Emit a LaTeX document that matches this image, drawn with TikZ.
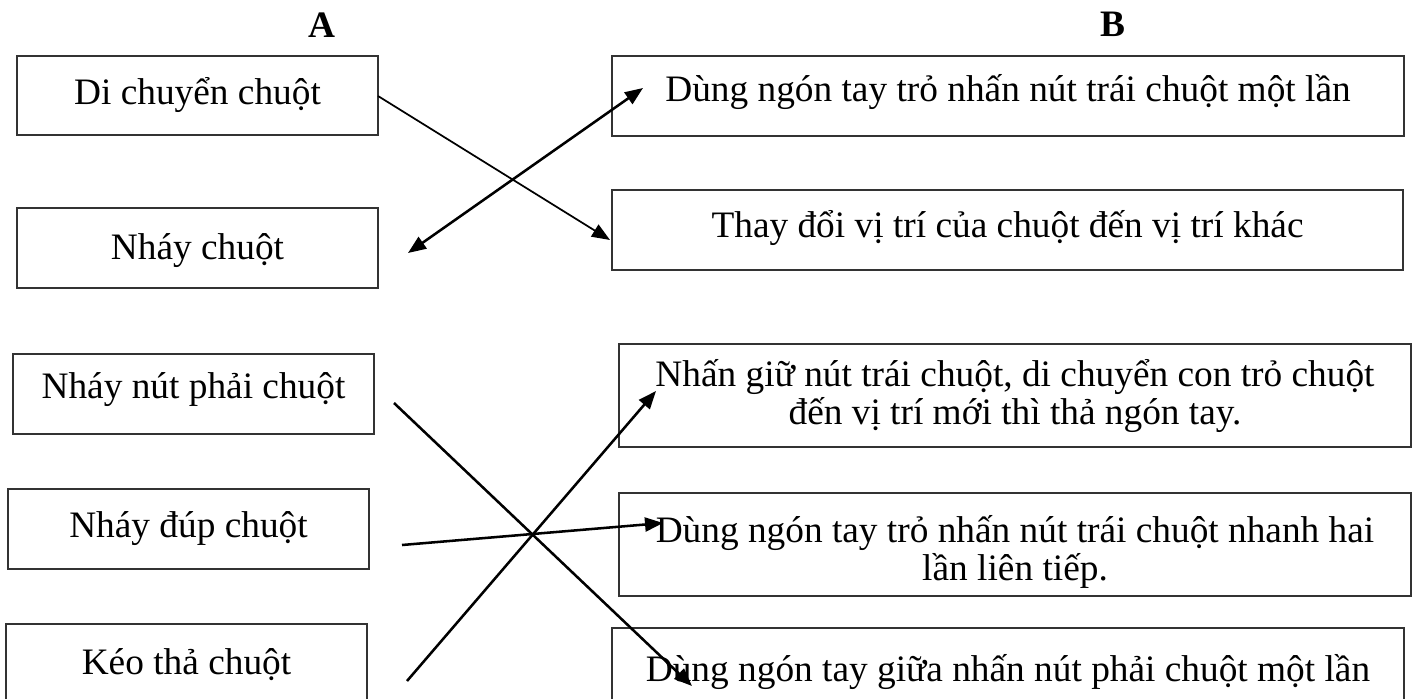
\documentclass[tikz,border=0pt]{standalone}
\usepackage{fontspec}
\setmainfont{Liberation Serif}
\usetikzlibrary{arrows.meta}
\tikzset{
  box/.style 2 args={draw=black!80, line width=1pt, inner sep=0pt, minimum width=#1*0.75pt, minimum height=#2*0.75pt},
  txt/.style={inner sep=0pt, anchor=base, font=\fontsize{28pt}{31pt}\selectfont},
  hdr/.style={inner sep=0pt, anchor=base, font=\fontsize{28pt}{31pt}\selectfont\bfseries},
  con/.style={line width=1.9pt, -{Triangle[length=13.5pt,width=10.5pt]}},
  conthin/.style={line width=1.3pt, -{Triangle[length=13.5pt,width=10.5pt]}},
  conboth/.style={line width=1.9pt, {Triangle[length=13.5pt,width=10.5pt]}-{Triangle[length=13.5pt,width=10.5pt]}}
}
\begin{document}
\begin{tikzpicture}[x=0.75pt,y=-0.75pt]
\path[use as bounding box, clip] (0,0) rectangle (1416,699);
% headers
\node[hdr] (hA) at (322,38) {A};
\node[hdr] (hB) at (1113,37) {B};
% left boxes
\node[box={361}{79}] (L1) at (197.5,95.5) {};
\node[txt] (L1t) at (197.5,104) {Di chuyển chuột};
\node[box={361}{80}] (L2) at (197.5,248) {};
\node[txt] (L2t) at (197.5,259) {Nháy chuột};
\node[box={361}{80}] (L3) at (193.5,394) {};
\node[txt] (L3t) at (193.5,398) {Nháy nút phải chuột};
\node[box={361}{80}] (L4) at (188.5,529) {};
\node[txt] (L4t) at (188.5,537) {Nháy đúp chuột};
\node[box={361}{96}] (L5) at (186.5,672) {};
\node[txt] (L5t) at (186.5,674) {Kéo thả chuột};
% right boxes
\node[box={792}{80}] (R1) at (1008,96) {};
\node[txt] (R1t) at (1008,102) {Dùng ngón tay trỏ nhấn nút trái chuột một lần};
\node[box={791}{80}] (R2) at (1007.5,230) {};
\node[txt] (R2t) at (1007.5,237) {Thay đổi vị trí của chuột đến vị trí khác};
\node[box={792}{103}] (R3) at (1015,395.5) {};
\node[txt] (R3a) at (1015,386) {Nhấn giữ nút trái chuột, di chuyển con trỏ chuột};
\node[txt] (R3b) at (1015,424) {đến vị trí mới thì thả ngón tay.};
\node[box={792}{103}] (R4) at (1015,544.5) {};
\node[txt] (R4a) at (1015,542) {Dùng ngón tay trỏ nhấn nút trái chuột nhanh hai};
\node[txt] (R4b) at (1015,580) {lần liên tiếp.};
\node[box={792}{92}] (R5) at (1008,674) {};
\node[txt] (R5t) at (1008,681) {Dùng ngón tay giữa nhấn nút phải chuột một lần};
% connector end points
\coordinate (a1s) at (378,96);
\coordinate (a1e) at (610,240);
\coordinate (a2s) at (408,253);
\coordinate (a2e) at (643,88);
\coordinate (a3s) at (394,403);
\coordinate (a3e) at (692,686);
\coordinate (a4s) at (402,545);
\coordinate (a4e) at (663,523);
\coordinate (a5s) at (407,681);
\coordinate (a5e) at (656,391);
\draw[conthin] (a1s) -- (a1e);
\draw[conboth] (a2s) -- (a2e);
\draw[con] (a3s) -- (a3e);
\draw[con] (a4s) -- (a4e);
\draw[con] (a5s) -- (a5e);
\end{tikzpicture}
\end{document}
